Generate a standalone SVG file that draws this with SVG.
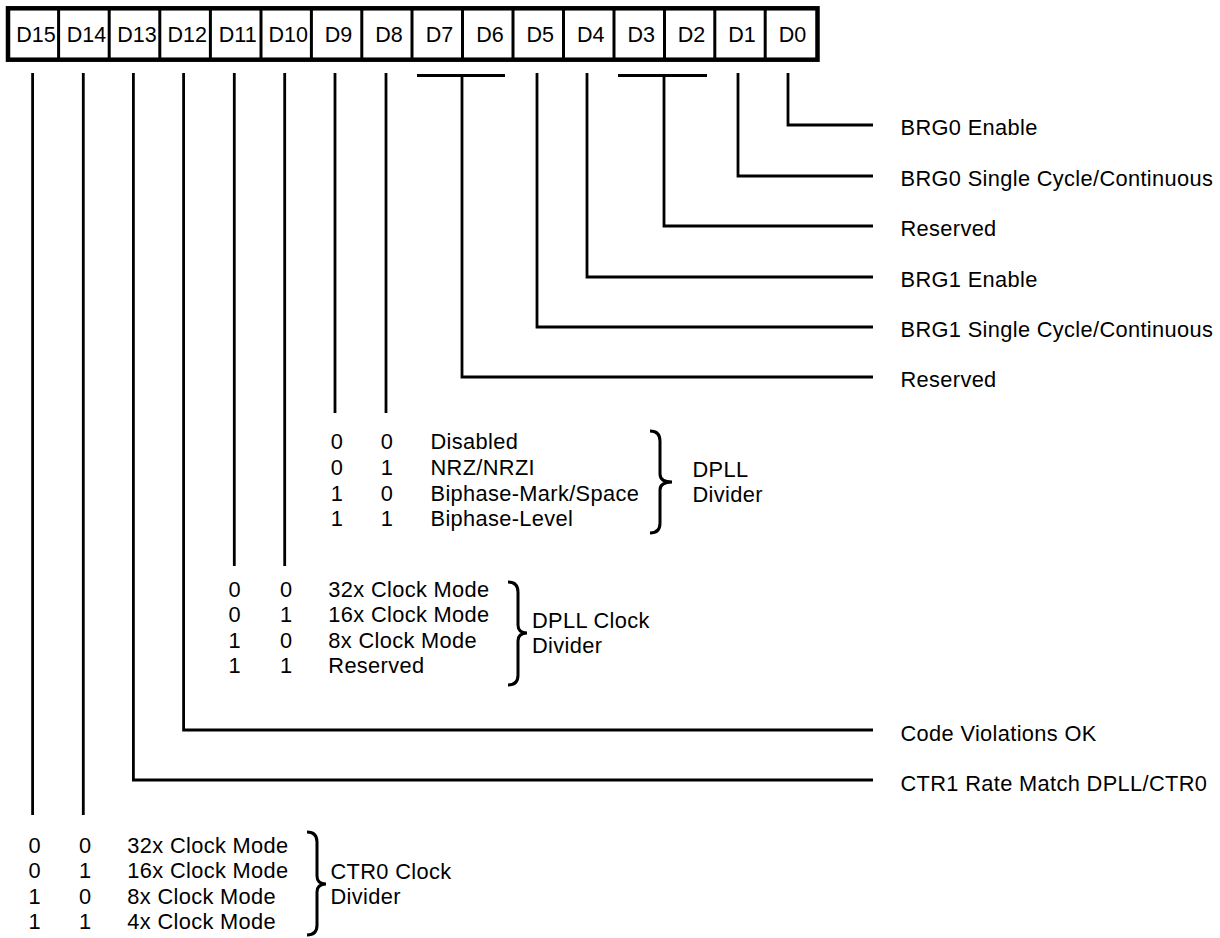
<svg xmlns="http://www.w3.org/2000/svg" width="1220" height="938" viewBox="0 0 1220 938">
<style>
  text { font-family: "Liberation Sans", Arial, sans-serif; fill: #000; }
  .hdr { font-size: 21.5px; text-anchor: middle; }
  .lbl { font-size: 21.8px; letter-spacing: 0.35px; }
  .ln { stroke: #000; stroke-width: 2.8; fill: none; stroke-linecap: butt; }
  .brace { stroke: #000; stroke-width: 3; fill: none; }
</style>
<rect width="1220" height="938" fill="#fff"/>

<g id="register">
  <rect x="8" y="8.3" width="809.5" height="51.4" fill="#fff" stroke="#000" stroke-width="4.5"/>
  <g stroke="#000" stroke-width="3">
    <line x1="58.6" y1="8" x2="58.6" y2="60"/>
    <line x1="109.2" y1="8" x2="109.2" y2="60"/>
    <line x1="159.8" y1="8" x2="159.8" y2="60"/>
    <line x1="210.4" y1="8" x2="210.4" y2="60"/>
    <line x1="261" y1="8" x2="261" y2="60"/>
    <line x1="311.4" y1="8" x2="311.4" y2="60"/>
    <line x1="361.8" y1="8" x2="361.8" y2="60"/>
    <line x1="412" y1="8" x2="412" y2="60"/>
    <line x1="462.5" y1="8" x2="462.5" y2="60"/>
    <line x1="513" y1="8" x2="513" y2="60"/>
    <line x1="563.5" y1="8" x2="563.5" y2="60"/>
    <line x1="614" y1="8" x2="614" y2="60"/>
    <line x1="664.5" y1="8" x2="664.5" y2="60"/>
    <line x1="714.8" y1="8" x2="714.8" y2="60"/>
    <line x1="765.2" y1="8" x2="765.2" y2="60"/>
  </g>
  <text class="hdr" x="36" y="42.3">D15</text>
  <text class="hdr" x="86.4" y="42.3">D14</text>
  <text class="hdr" x="136.9" y="42.3">D13</text>
  <text class="hdr" x="187.3" y="42.3">D12</text>
  <text class="hdr" x="237.7" y="42.3">D11</text>
  <text class="hdr" x="288.2" y="42.3">D10</text>
  <text class="hdr" x="338.6" y="42.3">D9</text>
  <text class="hdr" x="389" y="42.3">D8</text>
  <text class="hdr" x="439.4" y="42.3">D7</text>
  <text class="hdr" x="489.9" y="42.3">D6</text>
  <text class="hdr" x="540.3" y="42.3">D5</text>
  <text class="hdr" x="590.7" y="42.3">D4</text>
  <text class="hdr" x="641.2" y="42.3">D3</text>
  <text class="hdr" x="691.6" y="42.3">D2</text>
  <text class="hdr" x="742" y="42.3">D1</text>
  <text class="hdr" x="792.5" y="42.3">D0</text>
</g>

<g id="connectors">
  <polyline class="ln" points="788,73 788,125 873,125"/>
  <polyline class="ln" points="738,73 738,176 873,176"/>
  <line class="ln" x1="618" y1="75.5" x2="707" y2="75.5"/>
  <polyline class="ln" points="664,75.5 664,226 873,226"/>
  <polyline class="ln" points="587,73 587,277 873,277"/>
  <polyline class="ln" points="537,73 537,327 873,327"/>
  <line class="ln" x1="417" y1="75.5" x2="505" y2="75.5"/>
  <polyline class="ln" points="462,75.5 462,377 873,377"/>
  <line class="ln" x1="386" y1="73" x2="386" y2="413"/>
  <line class="ln" x1="335" y1="73" x2="335" y2="413"/>
  <line class="ln" x1="284.7" y1="73" x2="284.7" y2="566"/>
  <line class="ln" x1="234.3" y1="73" x2="234.3" y2="566"/>
  <polyline class="ln" points="183.6,73 183.6,730 873,730"/>
  <polyline class="ln" points="133.4,73 133.4,780 873,780"/>
  <line class="ln" x1="83.3" y1="73" x2="83.3" y2="815"/>
  <line class="ln" x1="32.6" y1="73" x2="32.6" y2="815"/>
</g>

<g id="field-d0"><text class="lbl" x="900.5" y="135">BRG0 Enable</text></g>
<g id="field-d1"><text class="lbl" x="900.5" y="186">BRG0 Single Cycle/Continuous</text></g>
<g id="field-d3-d2"><text class="lbl" x="900.5" y="236">Reserved</text></g>
<g id="field-d4"><text class="lbl" x="900.5" y="287">BRG1 Enable</text></g>
<g id="field-d5"><text class="lbl" x="900.5" y="337">BRG1 Single Cycle/Continuous</text></g>
<g id="field-d7-d6"><text class="lbl" x="900.5" y="387">Reserved</text></g>
<g id="field-d12"><text class="lbl" x="900.5" y="741">Code Violations OK</text></g>
<g id="field-d13"><text class="lbl" x="900.5" y="791">CTR1 Rate Match DPLL/CTR0</text></g>

<g id="field-d9-d8">
  <text class="lbl" x="330.8" y="449">0</text><text class="lbl" x="380.8" y="449">0</text><text class="lbl" x="430.5" y="449">Disabled</text>
  <text class="lbl" x="330.8" y="474.8">0</text><text class="lbl" x="380.8" y="474.8">1</text><text class="lbl" x="430.5" y="474.8">NRZ/NRZI</text>
  <text class="lbl" x="330.8" y="500.6">1</text><text class="lbl" x="380.8" y="500.6">0</text><text class="lbl" x="430.5" y="500.6">Biphase-Mark/Space</text>
  <text class="lbl" x="330.8" y="526.4">1</text><text class="lbl" x="380.8" y="526.4">1</text><text class="lbl" x="430.5" y="526.4">Biphase-Level</text>
  <path class="brace" d="M650,431 Q660,431 660,441 L660,474 Q660,482 672,482 Q660,482 660,490 L660,523 Q660,533 650,533"/>
  <text class="lbl" x="692.5" y="477">DPLL</text>
  <text class="lbl" x="692.5" y="502">Divider</text>
</g>

<g id="field-d11-d10">
  <text class="lbl" x="228.4" y="596.5">0</text><text class="lbl" x="280" y="596.5">0</text><text class="lbl" x="328.3" y="596.5">32x Clock Mode</text>
  <text class="lbl" x="228.4" y="622">0</text><text class="lbl" x="280" y="622">1</text><text class="lbl" x="328.3" y="622">16x Clock Mode</text>
  <text class="lbl" x="228.4" y="647.5">1</text><text class="lbl" x="280" y="647.5">0</text><text class="lbl" x="328.3" y="647.5">8x Clock Mode</text>
  <text class="lbl" x="228.4" y="673">1</text><text class="lbl" x="280" y="673">1</text><text class="lbl" x="328.3" y="673">Reserved</text>
  <path class="brace" d="M508,582 Q518,582 518,592 L518,625 Q518,633 527,633 Q518,633 518,641 L518,675 Q518,685 508,685"/>
  <text class="lbl" x="532" y="628">DPLL Clock</text>
  <text class="lbl" x="532" y="653">Divider</text>
</g>

<g id="field-d15-d14">
  <text class="lbl" x="28.4" y="852.7">0</text><text class="lbl" x="79" y="852.7">0</text><text class="lbl" x="127.3" y="852.7">32x Clock Mode</text>
  <text class="lbl" x="28.4" y="878.1">0</text><text class="lbl" x="79" y="878.1">1</text><text class="lbl" x="127.3" y="878.1">16x Clock Mode</text>
  <text class="lbl" x="28.4" y="903.5">1</text><text class="lbl" x="79" y="903.5">0</text><text class="lbl" x="127.3" y="903.5">8x Clock Mode</text>
  <text class="lbl" x="28.4" y="929">1</text><text class="lbl" x="79" y="929">1</text><text class="lbl" x="127.3" y="929">4x Clock Mode</text>
  <path class="brace" d="M307,832 Q317,832 317,842 L317,876 Q317,884 326,884 Q317,884 317,892 L317,925 Q317,935 307,935"/>
  <text class="lbl" x="330.5" y="879">CTR0 Clock</text>
  <text class="lbl" x="330.5" y="904">Divider</text>
</g>
</svg>
